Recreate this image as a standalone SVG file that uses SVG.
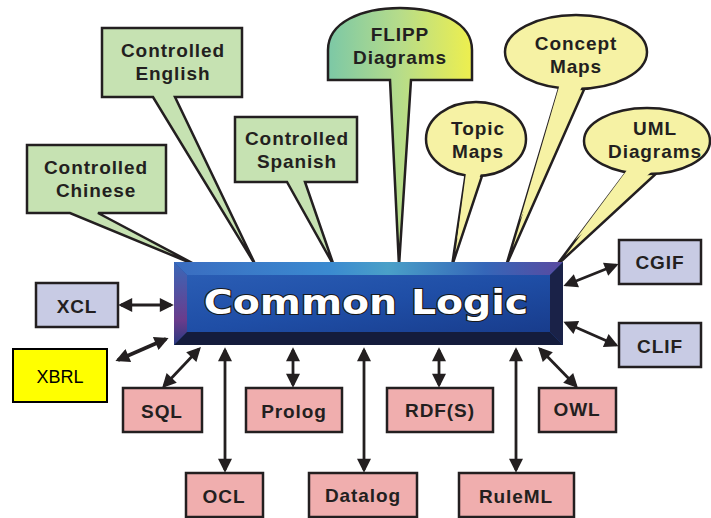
<svg xmlns="http://www.w3.org/2000/svg" width="711" height="518" viewBox="0 0 711 518">
<defs>
<style>
.lbl{font-family:"Liberation Sans",Arial,sans-serif;font-weight:bold;font-size:19px;letter-spacing:0.9px;fill:#231f20;text-anchor:middle}
.ol{stroke:#231f20;stroke-width:2.5;stroke-linejoin:miter}
.green{fill:#c6e2b2}
.pink{fill:#f0aeae}
.lav{fill:#c8cbe4}
.yel{fill:#f6f2a4}
.conn line{stroke:#231f20;stroke-width:2.8;marker-start:url(#ah);marker-end:url(#ah)}
</style>
<marker id="ah" viewBox="0 0 10 10" refX="8" refY="5" markerWidth="15" markerHeight="14" markerUnits="userSpaceOnUse" orient="auto-start-reverse">
<path d="M0,0 L10,5 L0,10 Z" fill="#231f20"/>
</marker>
<linearGradient id="flipp" x1="0" y1="0" x2="1" y2="0">
<stop offset="0" stop-color="#7cc8a6"/>
<stop offset="0.5" stop-color="#b6dc8a"/>
<stop offset="1" stop-color="#eeef4e"/>
</linearGradient>
<linearGradient id="face" x1="0" y1="0" x2="1" y2="1">
<stop offset="0" stop-color="#2a5db4"/>
<stop offset="0.5" stop-color="#1f4ea6"/>
<stop offset="1" stop-color="#183c8c"/>
</linearGradient>
<linearGradient id="topb" x1="0" y1="0" x2="1" y2="0">
<stop offset="0" stop-color="#3a6cc0"/>
<stop offset="0.4" stop-color="#3b8ad0"/>
<stop offset="0.55" stop-color="#4aa0c8"/>
<stop offset="0.8" stop-color="#3566b8"/>
<stop offset="1" stop-color="#5a4aa0"/>
</linearGradient>
<linearGradient id="leftb" x1="0" y1="0" x2="0" y2="1">
<stop offset="0" stop-color="#3a68b8"/>
<stop offset="0.7" stop-color="#6a3c8c"/>
<stop offset="1" stop-color="#2a3a80"/>
</linearGradient>
</defs>

<g id="connectors" class="conn">
<line x1="121" y1="305" x2="171" y2="305"/>
<line x1="118" y1="360" x2="166" y2="339" style="stroke-width:3.6"/>
<line x1="164" y1="386" x2="199" y2="349"/>
<line x1="225" y1="350" x2="225" y2="470"/>
<line x1="293" y1="350" x2="293" y2="385"/>
<line x1="364" y1="350" x2="364" y2="470"/>
<line x1="439" y1="350" x2="439" y2="385"/>
<line x1="516" y1="350" x2="516" y2="470"/>
<line x1="540" y1="349" x2="576" y2="386"/>
<line x1="566" y1="285" x2="616" y2="265"/>
<line x1="566" y1="323" x2="616" y2="345"/>
</g>

<g id="controlled-chinese">
<path class="ol green" d="M27,145 H166 V213 H98 L198,266 L70,213 H27 Z"/>
<text class="lbl" x="96" y="174">Controlled</text>
<text class="lbl" x="96" y="197">Chinese</text>
</g>
<g id="controlled-english">
<path class="ol green" d="M102,28 H242 V97 H175 L256,266 L153,97 H102 Z"/>
<text class="lbl" x="173" y="57">Controlled</text>
<text class="lbl" x="173" y="80">English</text>
</g>
<g id="controlled-spanish">
<path class="ol green" d="M235,117 H357 V182 H305 L334,266 L287,182 H235 Z"/>
<text class="lbl" x="297" y="145">Controlled</text>
<text class="lbl" x="297" y="168">Spanish</text>
</g>
<g id="flipp-diagrams">
<path class="ol" fill="url(#flipp)" d="M328,80 V50 C328,22 362,8 400,8 C438,8 472,22 472,50 V80 H411 L399,266 L390,80 Z"/>
<text class="lbl" x="400" y="41">FLIPP</text>
<text class="lbl" x="400" y="64">Diagrams</text>
</g>
<g id="topic-maps">
<path class="ol yel" d="M466,172 L452,266 L484,170 Z"/>
<ellipse class="ol yel" cx="476" cy="139" rx="50" ry="37"/>
<path class="yel" d="M467,165 L457,240 L484,165 Z"/>
<text class="lbl" x="478" y="135">Topic</text>
<text class="lbl" x="478" y="158">Maps</text>
</g>
<g id="concept-maps">
<path class="ol yel" d="M560,85 L506,266 L586,85 Z"/>
<ellipse class="ol yel" cx="576" cy="52" rx="71" ry="37"/>
<path class="yel" d="M561,80 L520,220 L585,80 Z"/>
<text class="lbl" x="576" y="50">Concept</text>
<text class="lbl" x="576" y="73">Maps</text>
</g>
<g id="uml-diagrams">
<path class="ol yel" d="M628,170 L556,266 L660,170 Z"/>
<ellipse class="ol yel" cx="647" cy="141" rx="63" ry="33"/>
<path class="yel" d="M630,166 L575,240 L658,166 Z"/>
<text class="lbl" x="655" y="135">UML</text>
<text class="lbl" x="655" y="158">Diagrams</text>
</g>

<g id="common-logic">
<rect x="174" y="262" width="389" height="83" fill="#1f4ea6"/>
<polygon points="174,262 563,262 550,275 187,275" fill="url(#topb)"/>
<polygon points="174,262 187,275 187,332 174,345" fill="url(#leftb)"/>
<polygon points="174,345 187,332 550,332 563,345" fill="#141c3c"/>
<polygon points="563,262 550,275 550,332 563,345" fill="#1a2248"/>
<rect x="187" y="275" width="363" height="57" fill="url(#face)"/>
<text transform="translate(366,314) scale(1.16,1)" x="0" y="0" style="font-family:'DejaVu Sans',Arial,sans-serif;font-weight:bold;font-size:34px;fill:#ffffff;stroke:#1a1a1a;stroke-width:2.2px;paint-order:stroke;text-anchor:middle">Common Logic</text>
</g>

<g id="xcl"><rect class="ol lav" x="36" y="283" width="82" height="44"/><text class="lbl" x="77" y="313">XCL</text></g>
<g id="xbrl"><rect x="13" y="349" width="94" height="53" fill="#ffff00" stroke="#000" stroke-width="2"/><text x="60" y="383" style="font-family:'Liberation Sans',Arial,sans-serif;font-size:18px;fill:#000;text-anchor:middle">XBRL</text></g>
<g id="cgif"><rect class="ol lav" x="619" y="240" width="82" height="44"/><text class="lbl" x="660" y="269">CGIF</text></g>
<g id="clif"><rect class="ol lav" x="619" y="323" width="82" height="44"/><text class="lbl" x="660" y="353">CLIF</text></g>
<g id="sql"><rect class="ol pink" x="123" y="388" width="79" height="44"/><text class="lbl" x="162" y="418">SQL</text></g>
<g id="prolog"><rect class="ol pink" x="246" y="388" width="96" height="44"/><text class="lbl" x="294" y="418">Prolog</text></g>
<g id="rdfs"><rect class="ol pink" x="387" y="388" width="106" height="44"/><text class="lbl" x="440" y="417">RDF(S)</text></g>
<g id="owl"><rect class="ol pink" x="539" y="388" width="77" height="44"/><text class="lbl" x="577" y="416">OWL</text></g>
<g id="ocl"><rect class="ol pink" x="186" y="473" width="77" height="44"/><text class="lbl" x="224" y="503">OCL</text></g>
<g id="datalog"><rect class="ol pink" x="309" y="473" width="108" height="44"/><text class="lbl" x="363" y="502">Datalog</text></g>
<g id="ruleml"><rect class="ol pink" x="459" y="473" width="115" height="44"/><text class="lbl" x="516" y="503">RuleML</text></g>
</svg>
